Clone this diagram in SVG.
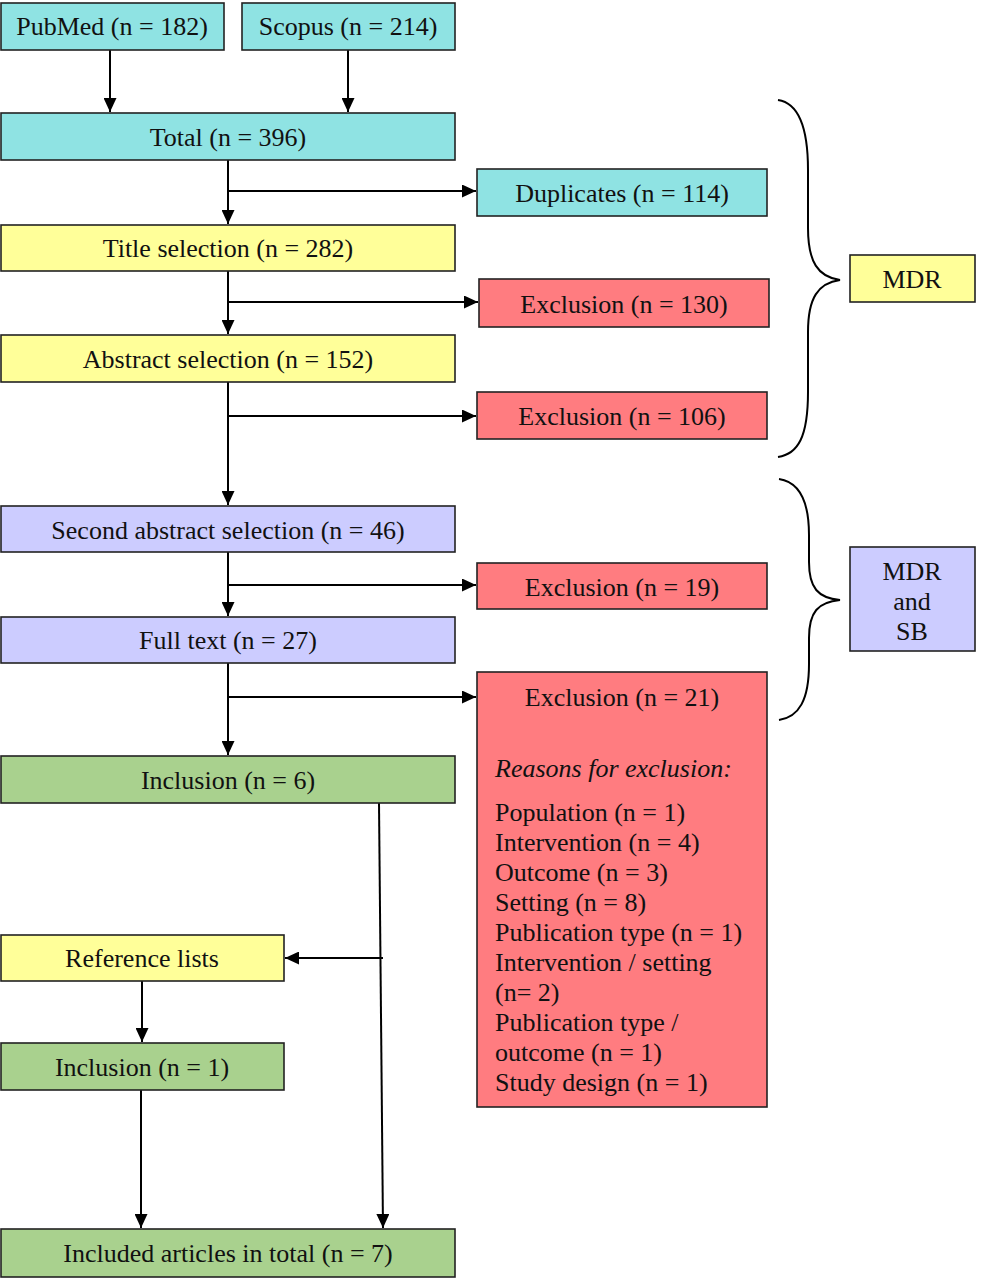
<svg xmlns="http://www.w3.org/2000/svg" width="982" height="1280" viewBox="0 0 982 1280">
<style>
  .box{stroke:#222;stroke-width:1.6}
  .cy{fill:#8FE3E3}
  .ye{fill:#FFFF99}
  .rd{fill:#FF7C80}
  .lv{fill:#CCCCFF}
  .gr{fill:#A9D18E}
  text{font-family:"Liberation Serif","Times New Roman",serif;font-size:26px;fill:#111}
  .c{text-anchor:middle}
  .it{font-style:italic}
  .ln{stroke:#000;stroke-width:2;fill:none}
  .br{stroke:#000;stroke-width:2;fill:none}
</style>
<defs>
  <marker id="ah" markerUnits="userSpaceOnUse" markerWidth="15" markerHeight="13" refX="14" refY="6.5" orient="auto">
    <path d="M0,0 L14,6.5 L0,13 Z" fill="#000"/>
  </marker>
</defs>
<rect width="982" height="1280" fill="#fff"/>

<g id="connectors">
  <line class="ln" x1="110" y1="50" x2="110" y2="112" marker-end="url(#ah)"/>
  <line class="ln" x1="348" y1="50" x2="348" y2="112" marker-end="url(#ah)"/>
  <line class="ln" x1="228" y1="160" x2="228" y2="224" marker-end="url(#ah)"/>
  <line class="ln" x1="228" y1="191" x2="476" y2="191" marker-end="url(#ah)"/>
  <line class="ln" x1="228" y1="271" x2="228" y2="334" marker-end="url(#ah)"/>
  <line class="ln" x1="228" y1="302" x2="478" y2="302" marker-end="url(#ah)"/>
  <line class="ln" x1="228" y1="382" x2="228" y2="505" marker-end="url(#ah)"/>
  <line class="ln" x1="228" y1="416" x2="476" y2="416" marker-end="url(#ah)"/>
  <line class="ln" x1="228" y1="552" x2="228" y2="616" marker-end="url(#ah)"/>
  <line class="ln" x1="228" y1="585" x2="476" y2="585" marker-end="url(#ah)"/>
  <line class="ln" x1="228" y1="663" x2="228" y2="755" marker-end="url(#ah)"/>
  <line class="ln" x1="228" y1="697" x2="476" y2="697" marker-end="url(#ah)"/>
  <line class="ln" x1="379" y1="803" x2="383" y2="1228" marker-end="url(#ah)"/>
  <line class="ln" x1="383" y1="958" x2="285" y2="958" marker-end="url(#ah)"/>
  <line class="ln" x1="142" y1="981" x2="142" y2="1042" marker-end="url(#ah)"/>
  <line class="ln" x1="141" y1="1090" x2="141" y2="1228" marker-end="url(#ah)"/>
  <path class="br" d="M778,100 C798,103 808,125 808,170 L808,228 C808,262 818,277 840,280 C818,283 808,298 808,332 L808,392 C808,437 798,454 778,457"/>
  <path class="br" d="M779,479 C799,482 809,500 809,535 L809,562 C809,588 818,598 840,600 C818,602 809,612 809,638 L809,664 C809,700 799,717 779,720"/>
</g>

<g id="pubmed"><rect class="box cy" x="1" y="3" width="223" height="47"/><text class="c" x="112" y="35">PubMed (n = 182)</text></g>
<g id="scopus"><rect class="box cy" x="242" y="3" width="213" height="47"/><text class="c" x="348" y="35">Scopus (n = 214)</text></g>
<g id="total"><rect class="box cy" x="1" y="113" width="454" height="47"/><text class="c" x="228" y="146">Total (n = 396)</text></g>
<g id="duplicates"><rect class="box cy" x="477" y="169" width="290" height="47"/><text class="c" x="622" y="202">Duplicates (n = 114)</text></g>
<g id="title"><rect class="box ye" x="1" y="225" width="454" height="46"/><text class="c" x="228" y="257">Title selection (n = 282)</text></g>
<g id="excl130"><rect class="box rd" x="479" y="279" width="290" height="48"/><text class="c" x="624" y="313">Exclusion (n = 130)</text></g>
<g id="abstract"><rect class="box ye" x="1" y="335" width="454" height="47"/><text class="c" x="228" y="368">Abstract selection (n = 152)</text></g>
<g id="excl106"><rect class="box rd" x="477" y="392" width="290" height="47"/><text class="c" x="622" y="425">Exclusion (n = 106)</text></g>
<g id="mdr"><rect class="box ye" x="850" y="255" width="125" height="47"/><text class="c" x="912" y="288">MDR</text></g>
<g id="second"><rect class="box lv" x="1" y="506" width="454" height="46"/><text class="c" x="228" y="539">Second abstract selection (n = 46)</text></g>
<g id="excl19"><rect class="box rd" x="477" y="563" width="290" height="46"/><text class="c" x="622" y="596">Exclusion (n = 19)</text></g>
<g id="fulltext"><rect class="box lv" x="1" y="617" width="454" height="46"/><text class="c" x="228" y="649">Full text (n = 27)</text></g>
<g id="mdrsb"><rect class="box lv" x="850" y="547" width="125" height="104"/><text class="c" x="912" y="580">MDR</text><text class="c" x="912" y="610">and</text><text class="c" x="912" y="640">SB</text></g>
<g id="excl21"><rect class="box rd" x="477" y="672" width="290" height="435"/>
  <text class="c" x="622" y="706">Exclusion (n = 21)</text>
  <text class="it" x="495" y="777">Reasons for exclusion:</text>
  <text x="495" y="821">Population (n = 1)</text>
  <text x="495" y="851">Intervention (n = 4)</text>
  <text x="495" y="881">Outcome (n = 3)</text>
  <text x="495" y="911">Setting (n = 8)</text>
  <text x="495" y="941">Publication type (n = 1)</text>
  <text x="495" y="971">Intervention / setting</text>
  <text x="495" y="1001">(n= 2)</text>
  <text x="495" y="1031">Publication type /</text>
  <text x="495" y="1061">outcome (n = 1)</text>
  <text x="495" y="1091">Study design (n = 1)</text>
</g>
<g id="inclusion6"><rect class="box gr" x="1" y="756" width="454" height="47"/><text class="c" x="228" y="789">Inclusion (n = 6)</text></g>
<g id="reflists"><rect class="box ye" x="1" y="935" width="283" height="46"/><text class="c" x="142" y="967">Reference lists</text></g>
<g id="inclusion1"><rect class="box gr" x="1" y="1043" width="283" height="47"/><text class="c" x="142" y="1076">Inclusion (n = 1)</text></g>
<g id="included"><rect class="box gr" x="1" y="1229" width="454" height="48"/><text class="c" x="228" y="1262">Included articles in total (n = 7)</text></g>
</svg>
